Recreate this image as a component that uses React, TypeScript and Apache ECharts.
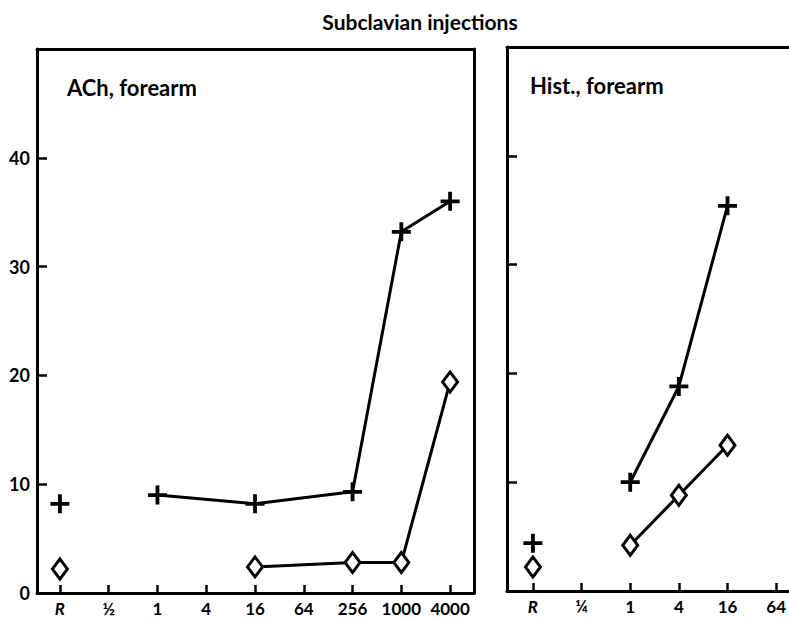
import React, { useEffect, useRef } from "react";
import * as echarts from "echarts";

const achLabels = ["R", "½", "1", "4", "16", "64", "256", "1000", "4000"];
const achPlus = [8.2, null, 9.0, null, 8.2, null, 9.3, 33.2, 36.0];
const achDiamond = [2.2, null, null, null, 2.4, null, 2.8, 2.8, 19.4];

const histLabels = ["R", "¼", "1", "4", "16", "64"];
const histPlus = [4.4, null, 10.0, 18.8, 35.4, null];
const histDiamond = [2.2, null, 4.2, 8.8, 13.4, null];

const yTickValues = [10, 20, 30, 40];
const yLabelValues = [0, 10, 20, 30, 40];

const FONT = "Lato";
const PLUS = "path://M0,7.2 H18 V10.8 H0 Z M7.2,0 H10.8 V18 H7.2 Z";
const DIAMOND = "path://M7.5,0 L15,10 L7.5,20 L0,10 Z";

type V = number | null;

function pts(vals: V[], skipFirst: boolean) {
  const out: [number, number][] = [];
  vals.forEach((v, i) => {
    if (v == null) return;
    if (skipFirst && i === 0) return;
    out.push([i, v]);
  });
  return out;
}

function makeSeries(vals: V[], idx: number, kind: "plus" | "diamond") {
  const line = {
    type: "line",
    xAxisIndex: idx,
    yAxisIndex: idx,
    data: pts(vals, true),
    symbol: "none",
    lineStyle: { color: "#000", width: 3 },
    z: 2,
    silent: true,
  };
  const marks = {
    type: "scatter",
    xAxisIndex: idx,
    yAxisIndex: idx,
    data: pts(vals, false),
    symbol: kind === "plus" ? PLUS : DIAMOND,
    symbolSize: kind === "plus" ? 19 : [15, 20],
    itemStyle:
      kind === "plus"
        ? { color: "#000", opacity: 1 }
        : { color: "#fff", borderColor: "#000", borderWidth: 3, opacity: 1 },
    z: 3,
    silent: true,
  };
  return [line, marks];
}

const lineStyle = { color: "#000", width: 3 };

function xAxis(idx: number, labels: string[], min: number, max: number) {
  const vals = labels.map((_, i) => i);
  return {
    type: "value",
    gridIndex: idx,
    position: "bottom",
    min,
    max,
    splitLine: { show: false },
    axisLine: { show: true, onZero: false, lineStyle },
    axisTick: {
      show: true,
      inside: true,
      length: 8,
      customValues: vals,
      lineStyle: { color: "#000", width: 2.5 },
    },
    axisLabel: {
      show: true,
      customValues: vals,
      margin: 7,
      color: "#000",
      fontFamily: FONT,
      fontWeight: "bold",
      fontSize: 17,
      formatter: (v: number) => {
        const l = labels[Math.round(v)];
        return l === "R" ? "{it|R}" : l;
      },
      rich: {
        it: {
          fontStyle: "italic",
          fontFamily: FONT,
          fontWeight: "bold",
          fontSize: 17,
          color: "#000",
        },
      },
    },
  };
}

function frameAxis(idx: number, position: string, min: number, max: number) {
  return {
    type: "value",
    gridIndex: idx,
    position,
    min,
    max,
    splitLine: { show: false },
    axisLine: { show: true, onZero: false, lineStyle },
    axisTick: { show: false },
    axisLabel: { show: false },
  };
}

function yAxis(idx: number, showLabels: boolean) {
  return {
    type: "value",
    gridIndex: idx,
    position: "left",
    min: 0,
    max: 50,
    splitLine: { show: false },
    axisLine: { show: true, onZero: false, lineStyle },
    axisTick: {
      show: true,
      inside: true,
      length: 10,
      customValues: yTickValues,
      lineStyle: { color: "#000", width: 2.5 },
    },
    axisLabel: {
      show: showLabels,
      customValues: yLabelValues,
      margin: 7,
      color: "#000",
      fontFamily: FONT,
      fontWeight: "bold",
      fontSize: 18,
    },
  };
}

export default function App() {
  const ref = useRef<HTMLDivElement>(null);
  useEffect(() => {
    if (!ref.current) return;
    const chart = echarts.init(ref.current, null, { renderer: "svg" });
    chart.setOption({
      animation: false,
      backgroundColor: "#fff",
      grid: [
        { left: 37, top: 49, width: 437, height: 544, show: false },
        { left: 507, top: 47, width: 282, height: 544, show: false },
      ],
      xAxis: [
        xAxis(0, achLabels, -0.47, 8.49),
        xAxis(1, histLabels, -0.533, 5.25),
        frameAxis(0, "top", -0.47, 8.49),
        frameAxis(1, "top", -0.533, 5.25),
      ],
      yAxis: [
        yAxis(0, true),
        yAxis(1, false),
        { ...frameAxis(0, "right", 0, 50) },
      ],
      graphic: [
        {
          type: "text",
          x: 420,
          y: 21,
          style: {
            text: "Subclavian injections",
            textAlign: "center",
            textVerticalAlign: "middle",
            fontFamily: FONT,
            fontWeight: "bold",
            fontSize: 21,
            fill: "#000",
          },
        },
        {
          type: "text",
          x: 67,
          y: 87,
          style: {
            text: "ACh, forearm",
            textAlign: "left",
            textVerticalAlign: "middle",
            fontFamily: FONT,
            fontWeight: "bold",
            fontSize: 22,
            fill: "#000",
          },
        },
        {
          type: "text",
          x: 530,
          y: 85,
          style: {
            text: "Hist., forearm",
            textAlign: "left",
            textVerticalAlign: "middle",
            fontFamily: FONT,
            fontWeight: "bold",
            fontSize: 22,
            fill: "#000",
          },
        },
      ],
      series: [
        ...makeSeries(achPlus, 0, "plus"),
        ...makeSeries(achDiamond, 0, "diamond"),
        ...makeSeries(histPlus, 1, "plus"),
        ...makeSeries(histDiamond, 1, "diamond"),
      ],
    });
    return () => chart.dispose();
  }, []);
  return (
    <div
      ref={ref}
      style={{
        position: "fixed",
        left: 0,
        top: 0,
        width: 789,
        height: 618,
        background: "#fff",
      }}
    />
  );
}
